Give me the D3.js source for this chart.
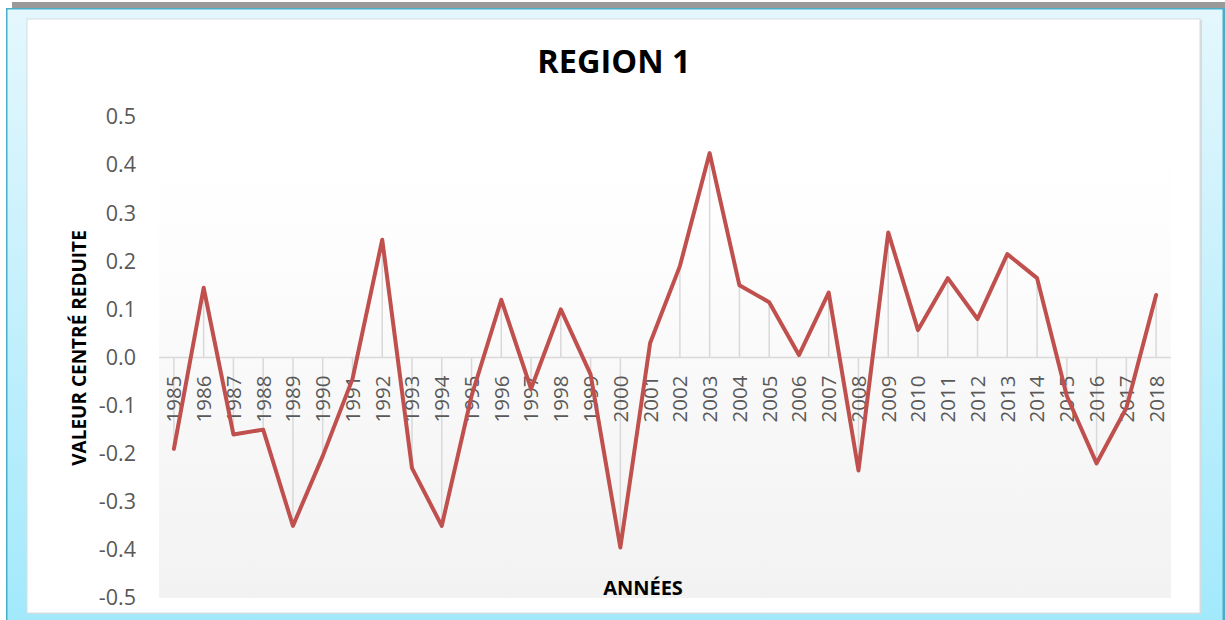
<!DOCTYPE html>
<html>
<head>
<meta charset="utf-8">
<script src="https://cdn.jsdelivr.net/npm/d3@7"></script>
<style>
  html, body { margin: 0; padding: 0; background: #ffffff; }
  svg { display: block; }
</style>
</head>
<body>
<svg id="chart" width="1225" height="620"></svg>
<script>
// Standardised values per year, Region 1
const years = [1985, 1986, 1987, 1988, 1989, 1990, 1991, 1992, 1993, 1994,
               1995, 1996, 1997, 1998, 1999, 2000, 2001, 2002, 2003, 2004,
               2005, 2006, 2007, 2008, 2009, 2010, 2011, 2012, 2013, 2014,
               2015, 2016, 2017, 2018];
const values = [-0.19, 0.145, -0.16, -0.15, -0.35, -0.205, -0.045, 0.245, -0.23, -0.35,
                -0.08, 0.12, -0.065, 0.10, -0.035, -0.395, 0.03, 0.19, 0.425, 0.15,
                0.115, 0.005, 0.135, -0.235, 0.26, 0.057, 0.165, 0.08, 0.215, 0.165,
                -0.08, -0.22, -0.105, 0.13];
const yTicks = [0.5, 0.4, 0.3, 0.2, 0.1, 0.0, -0.1, -0.2, -0.3, -0.4, -0.5];

const titleText = "REGION 1";
const yTitleText = "VALEUR CENTRÉ REDUITE";
const xTitleText = "ANNÉES";

const svg = d3.select("#chart");
const W = 1225, H = 620;

// ---- frame ----
const defs = svg.append("defs");
const frameGrad = defs.append("linearGradient")
  .attr("id", "frameGrad").attr("x1", 0).attr("y1", 0).attr("x2", 0).attr("y2", 1);
frameGrad.append("stop").attr("offset", "0%").attr("stop-color", "#e4f7fd");
frameGrad.append("stop").attr("offset", "100%").attr("stop-color", "#a2e9fc");

const plotGrad = defs.append("linearGradient")
  .attr("id", "plotGrad").attr("x1", 0).attr("y1", 0).attr("x2", 0).attr("y2", 1);
plotGrad.append("stop").attr("offset", "0%").attr("stop-color", "#ffffff");
plotGrad.append("stop").attr("offset", "20%").attr("stop-color", "#fefefe");
plotGrad.append("stop").attr("offset", "100%").attr("stop-color", "#f2f2f2");

svg.append("rect").attr("x", 12).attr("y", 2).attr("width", W - 12).attr("height", 7)
  .attr("fill", "#9a9a9a");
svg.append("rect").attr("x", 6).attr("y", 8).attr("width", W - 6).attr("height", H - 8)
  .attr("fill", "#4aaec8");
svg.append("rect").attr("x", 7.5).attr("y", 9.5).attr("width", W - 10).attr("height", H - 9.5)
  .attr("fill", "url(#frameGrad)");
// inner white panel with a soft edge
svg.append("rect").attr("x", 28).attr("y", 20).attr("width", 1174).attr("height", 594)
  .attr("fill", "#d8d8d8");
svg.append("rect").attr("x", 27).attr("y", 19).attr("width", 1173).attr("height", 594)
  .attr("fill", "#ffffff").attr("stroke", "#d4dde1").attr("stroke-width", 1);

// ---- plot area ----
const plot = { left: 159, right: 1171, top: 117, bottom: 598 };

const x = d3.scaleBand().domain(years).range([plot.left, plot.right]).padding(0);
const y = d3.scaleLinear().domain([-0.5, 0.5]).range([plot.bottom, plot.top]);
const cx = d => x(d) + x.bandwidth() / 2;

svg.append("rect")
  .attr("x", plot.left).attr("y", plot.top)
  .attr("width", plot.right - plot.left).attr("height", plot.bottom - plot.top)
  .attr("fill", "url(#plotGrad)");

// drop lines from each point to the zero line
svg.append("g").selectAll("line").data(years).join("line")
  .attr("x1", d => cx(d)).attr("x2", d => cx(d))
  .attr("y1", y(0)).attr("y2", (d, i) => y(values[i]))
  .attr("stroke", "#d9d9d9").attr("stroke-width", 1.5);

// zero line (category axis)
svg.append("line")
  .attr("x1", plot.left).attr("x2", plot.right)
  .attr("y1", y(0)).attr("y2", y(0))
  .attr("stroke", "#d9d9d9").attr("stroke-width", 1.5);

// y axis labels
const yAxis = d3.axisLeft(y).tickValues(yTicks).tickSize(0).tickPadding(0)
  .tickFormat(d => (Math.abs(d) < 1e-9 ? 0 : d).toFixed(1));
const gy = svg.append("g").attr("transform", `translate(136,0)`).call(yAxis);
gy.select(".domain").remove();
gy.selectAll("text")
  .attr("font-family", "'Open Sans', sans-serif")
  .attr("font-size", 21.5)
  .attr("fill", "#595959");

// x axis labels (vertical), sitting just below the zero line
const xAxis = d3.axisBottom(x).tickSize(0).tickPadding(0);
const gx = svg.append("g").attr("transform", `translate(0,${y(0)})`).call(xAxis);
gx.select(".domain").remove();
gx.selectAll("text")
  .attr("font-family", "'Open Sans', sans-serif")
  .attr("font-size", 20.5)
  .attr("fill", "#595959")
  .attr("text-anchor", "end")
  .attr("dy", "0.36em")
  .attr("y", 0)
  .attr("transform", "translate(0,18) rotate(-90)");

// series line
const line = d3.line()
  .x((d, i) => cx(years[i]))
  .y(d => y(d));
svg.append("path")
  .datum(values)
  .attr("d", line)
  .attr("fill", "none")
  .attr("stroke", "#c0504d")
  .attr("stroke-width", 4)
  .attr("stroke-linejoin", "round")
  .attr("stroke-linecap", "round");

// ---- titles ----
svg.append("text")
  .attr("x", 614).attr("y", 73)
  .attr("text-anchor", "middle")
  .attr("font-family", "'Open Sans', sans-serif")
  .attr("font-weight", 700)
  .attr("font-size", 32.5)
  .attr("fill", "#000000")
  .text(titleText);

svg.append("text")
  .attr("transform", "translate(86,348) rotate(-90)")
  .attr("text-anchor", "middle")
  .attr("font-family", "'Open Sans', sans-serif")
  .attr("font-weight", 700)
  .attr("font-size", 19)
  .attr("fill", "#000000")
  .text(yTitleText);

svg.append("text")
  .attr("x", 643).attr("y", 595)
  .attr("text-anchor", "middle")
  .attr("font-family", "'Open Sans', sans-serif")
  .attr("font-weight", 700)
  .attr("font-size", 20)
  .attr("fill", "#000000")
  .text(xTitleText);
</script>
</body>
</html>
